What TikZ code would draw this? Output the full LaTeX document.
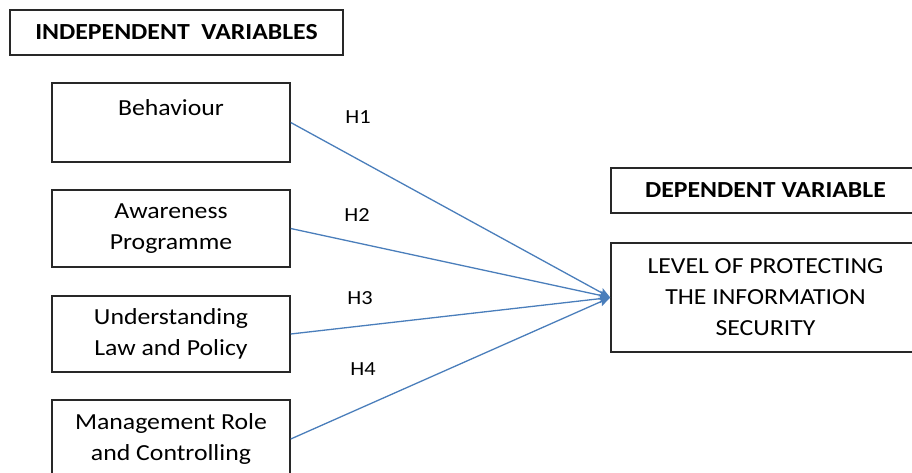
\documentclass[tikz,border=0pt]{standalone}
\usepackage{fontspec}
\setmainfont{Carlito}[FakeStretch=1.12]
\usetikzlibrary{arrows.meta}
\definecolor{linkblue}{RGB}{74,126,187}
\definecolor{boxline}{RGB}{40,40,40}
\begin{document}
\begin{tikzpicture}[x=1pt,y=-1pt,
  box/.style={draw=boxline,line width=1.5pt,inner sep=0pt,align=center,
    font=\fontsize{23}{31}\selectfont},
  leftbox/.style={box,minimum width=238pt},
  head/.style={box,font=\fontsize{23}{31}\selectfont\bfseries},
  link/.style={draw=linkblue,line width=1.3pt,-{Stealth[length=11pt,width=9pt,inset=2pt]}},
  hlab/.style={inner sep=0pt,font=\fontsize{20}{24}\selectfont}]
\useasboundingbox (0,0) rectangle (912,473);
\node[head,minimum width=333pt,minimum height=45pt] (ind) at (176.5,32.5) {INDEPENDENT\ \ VARIABLES};
\node[leftbox,minimum height=79pt] (beh) at (171,122.5) {Behaviour\\[-10pt]\strut};
\node[leftbox,minimum height=77pt] (awa) at (171,228.5) {Awareness\\Programme};
\node[leftbox,minimum height=76pt] (und) at (171,334) {Understanding\\Law and Policy};
\node[leftbox,minimum height=78pt] (man) at (171,439) {Management Role\\and Controlling};
\node[head,minimum width=309pt,minimum height=45pt] (dep) at (765.5,190.5) {DEPENDENT\ VARIABLE};
\node[box,minimum width=309pt,minimum height=109pt] (lvl) at (765.5,297.5) {LEVEL OF PROTECTING\\THE INFORMATION\\SECURITY};
\draw[link] (beh.east) -- (lvl.west);
\draw[link] (awa.east) -- (lvl.west);
\draw[link] (und.east) -- (lvl.west);
\draw[link] (man.east) -- (lvl.west);
\node[hlab] (h1) at (358,117) {H1};
\node[hlab] (h2) at (357,215) {H2};
\node[hlab] (h3) at (360,298) {H3};
\node[hlab] (h4) at (363,369) {H4};
\end{tikzpicture}
\end{document}
